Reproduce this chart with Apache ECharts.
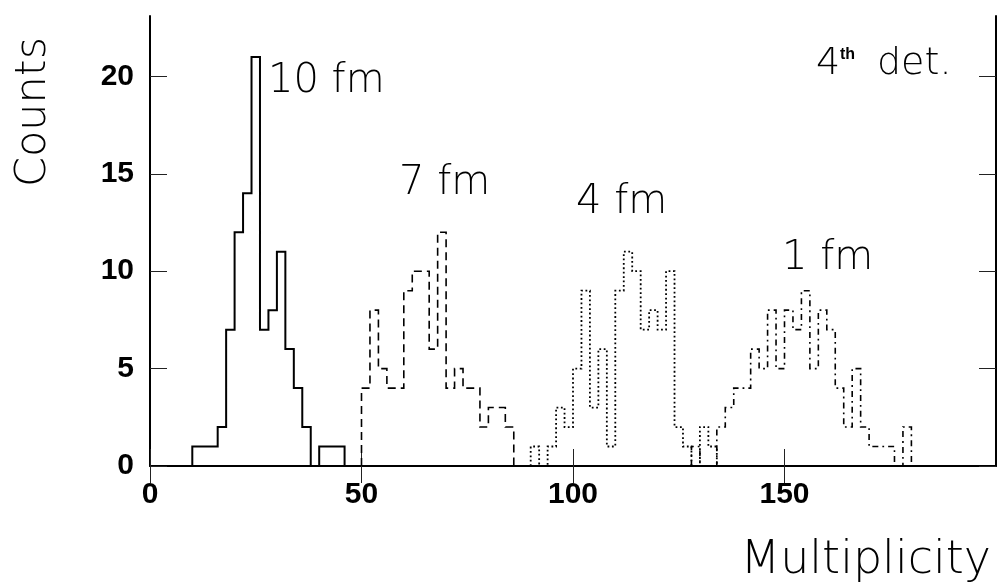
<!DOCTYPE html>
<html>
<head>
<meta charset="utf-8">
<script src="https://cdn.jsdelivr.net/npm/echarts@6/dist/echarts.min.js"></script>
<style>
  html, body { margin: 0; padding: 0; background: #fff; }
  #chart { width: 1001px; height: 583px; }
</style>
</head>
<body>
<div id="chart"></div>
<script>
// Multiplicity histograms in the 4th detector, one per impact parameter.
// Every histogram uses bins of width 2, starting at the given lower edge.
const binWidth = 2;

const start10fm = 10;
const counts10fm = [1, 1, 1, 2, 7, 12, 14, 21, 7, 8, 11, 6, 4, 2, 0, 1, 1, 1];

const start7fm = 50;
const counts7fm = [4, 8, 5, 4, 4, 9, 10, 10, 6, 12, 4, 5, 4, 4, 2, 3, 3, 2];

const start4fm = 90;
const counts4fm = [1, 0, 1, 3, 2, 5, 9, 3, 6, 1, 9, 11, 10, 7, 8, 7, 10, 2, 1, 0, 2, 1];

const start1fm = 128;
const counts1fm = [1, 0, 0, 2, 3, 4, 4, 6, 5, 8, 5, 8, 7, 9, 5, 8, 7, 4, 2, 5, 2, 1, 1, 1, 0, 2];

const xTicks = [0, 50, 100, 150];
const yTicks = [0, 5, 10, 15, 20];

// Outline of a histogram: up from zero at the first edge, flat over each bin,
// down to zero after the last bin.
function outline(start, counts) {
  const pts = [[start, 0]];
  counts.forEach((c, i) => {
    const lo = start + i * binWidth;
    pts.push([lo, c], [lo + binWidth, c]);
  });
  pts.push([start + counts.length * binWidth, 0]);
  return pts;
}

function histSeries(name, start, counts, width, dash) {
  return {
    name: name,
    type: 'line',
    data: outline(start, counts),
    showSymbol: false,
    symbol: 'none',
    silent: true,
    clip: false,
    lineStyle: { color: '#000', width: width, type: dash, cap: 'butt', join: 'miter' },
    z: 3
  };
}

const labelFont = '"DejaVu Sans", Lato, sans-serif';
const tickFont = '"Liberation Sans", Arial, sans-serif';

function note(text, x, y, size, extra) {
  return Object.assign({
    type: 'text', x: x, y: y,
    style: { text: text, font: '200 ' + size + 'px ' + labelFont, fill: '#000', textAlign: 'left', textVerticalAlign: 'middle' }
  }, extra || {});
}

const chart = echarts.init(document.getElementById('chart'), null, { renderer: 'canvas' });

chart.setOption({
  animation: false,
  backgroundColor: '#fff',
  grid: { left: 150, right: 5, top: 16, bottom: 117, containLabel: false },
  xAxis: [
    {
      type: 'value', min: 0, max: 200, interval: 50, position: 'bottom',
      axisLine: { show: true, onZero: false, lineStyle: { color: '#000', width: 2 } },
      axisTick: { show: true, inside: true, length: 17, customValues: xTicks, lineStyle: { color: '#222', width: 1 } },
      axisLabel: {
        customValues: xTicks, margin: 14,
        fontFamily: tickFont, fontWeight: 'bold', fontSize: 30, color: '#000'
      },
      splitLine: { show: false }
    },
    {
      type: 'value', min: 0, max: 200, interval: 50, position: 'top',
      axisLine: { show: false },
      axisTick: { show: true, inside: true, length: 17, customValues: xTicks, lineStyle: { color: '#222', width: 1 } },
      axisLabel: { show: false },
      splitLine: { show: false }
    }
  ],
  yAxis: [
    {
      type: 'value', min: 0, max: 23.1, interval: 5, position: 'left',
      axisLine: { show: true, onZero: false, lineStyle: { color: '#000', width: 2 } },
      axisTick: { show: true, inside: true, length: 17, customValues: yTicks, lineStyle: { color: '#222', width: 1 } },
      axisLabel: {
        customValues: yTicks, margin: 16,
        fontFamily: tickFont, fontWeight: 'bold', fontSize: 30, color: '#000'
      },
      splitLine: { show: false }
    },
    {
      type: 'value', min: 0, max: 23.1, interval: 5, position: 'right',
      axisLine: { show: true, onZero: false, lineStyle: { color: '#000', width: 2 } },
      axisTick: { show: true, inside: true, length: 17, customValues: yTicks, lineStyle: { color: '#222', width: 1 } },
      axisLabel: { show: false },
      splitLine: { show: false }
    }
  ],
  series: [
    histSeries('10 fm', start10fm, counts10fm, 2, 'solid'),
    histSeries('7 fm', start7fm, counts7fm, 1.6, [8, 5]),
    histSeries('4 fm', start4fm, counts4fm, 1.8, [1.8, 2.6]),
    histSeries('1 fm', start1fm, counts1fm, 1.6, [6, 4, 1.8, 4])
  ],
  graphic: [
    note('10 fm', 268, 82, 40),
    note('7 fm', 399, 184, 40),
    note('4 fm', 576, 203, 40),
    note('1 fm', 782, 259, 40),
    note('4', 816, 64, 38),
    { type: 'text', x: 840, y: 55, style: { text: 'th', font: 'bold 16px ' + tickFont, fill: '#000', textAlign: 'left', textVerticalAlign: 'middle' } },
    note('det.', 877, 64, 38),
    { type: 'text', x: 34, y: 112, rotation: Math.PI / 2, style: { text: 'Counts', font: '200 43px ' + labelFont, fill: '#000', textAlign: 'center', textVerticalAlign: 'middle' } },
    { type: 'text', x: 991, y: 561, style: { text: 'Multiplicity', font: '200 46px ' + labelFont, fill: '#000', textAlign: 'right', textVerticalAlign: 'middle' } }
  ]
});
</script>
</body>
</html>
